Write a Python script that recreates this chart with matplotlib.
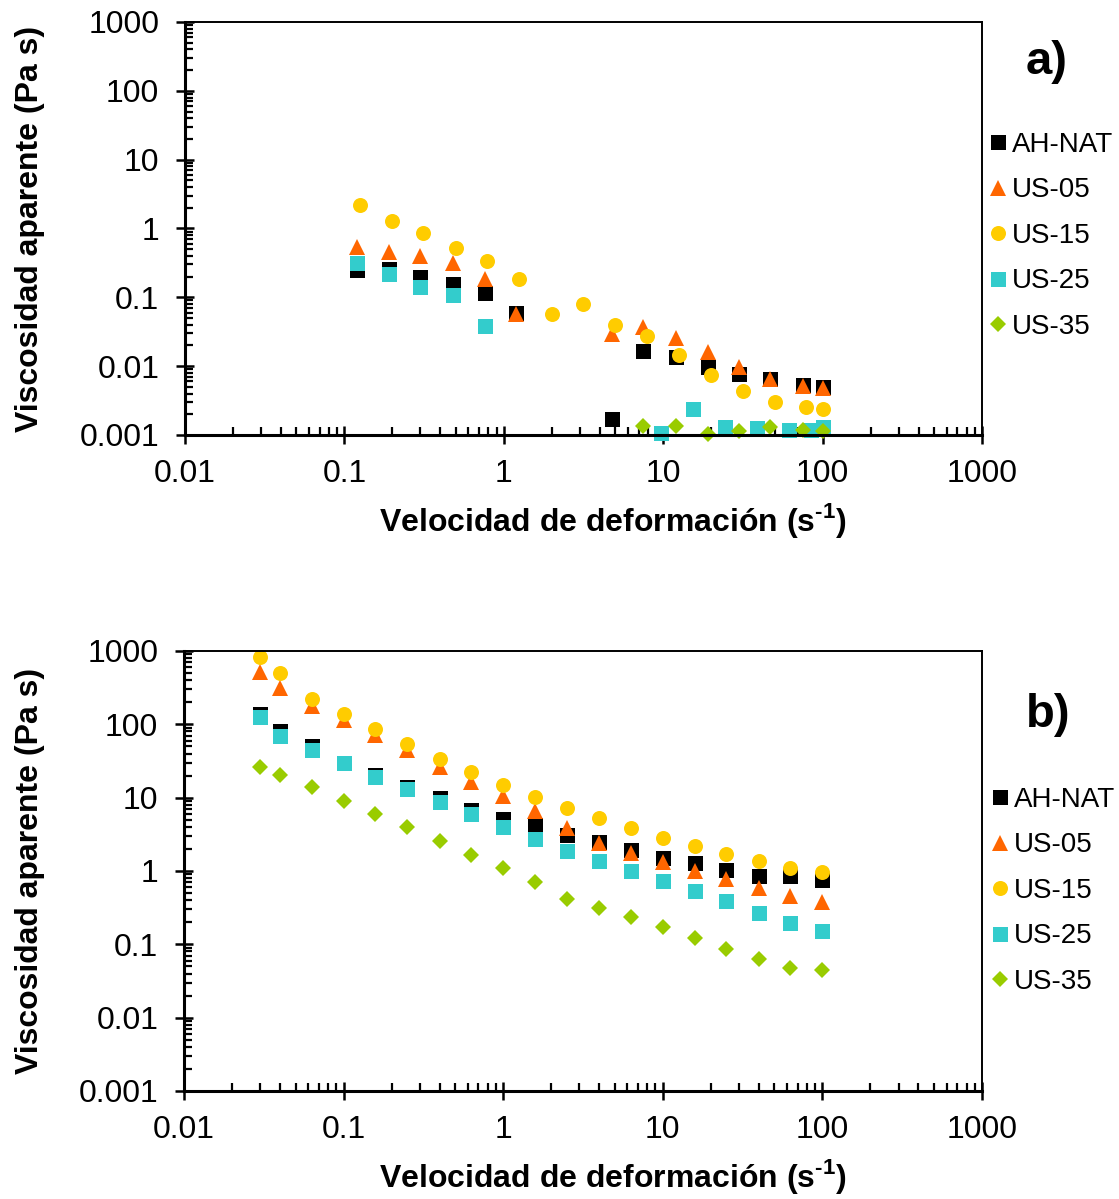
import matplotlib
matplotlib.use('Agg')
import matplotlib.pyplot as plt
from matplotlib.ticker import LogLocator, FuncFormatter, NullFormatter

plt.rcParams['font.family'] = 'Liberation Sans'
plt.rcParams['mathtext.fontset'] = 'custom'
plt.rcParams['mathtext.rm'] = 'Liberation Sans'
plt.rcParams['mathtext.bf'] = 'Liberation Sans:bold'

# ---- panel a) ----
rate_a = [0.12, 0.19, 0.30, 0.48, 0.76, 1.2, 4.8, 7.5, 12, 19, 30, 47, 75, 100]
rate_a15 = [0.125, 0.2, 0.31, 0.5, 0.79, 1.25, 2.0, 3.15, 5.0, 7.9, 12.5, 20, 31.5, 50, 79, 100]
rate_a25 = [0.12, 0.19, 0.30, 0.48, 0.76, 9.7, 15.4, 24.4, 38.7, 61.5, 85, 100]
rate_a35 = [7.5, 12, 19, 30, 47, 75, 100]

ahnat_a = [0.25, 0.26, 0.20, 0.156, 0.116, 0.059, 0.0017, 0.0165, 0.0136, 0.0097, 0.0077, 0.0065, 0.0053, 0.005]
us05_a = [0.54, 0.455, 0.40, 0.315, 0.185, 0.057, 0.029, 0.037, 0.0256, 0.016, 0.0097, 0.0065, 0.0052, 0.0048]
us15_a = [2.19, 1.28, 0.86, 0.52, 0.337, 0.185, 0.057, 0.080, 0.0396, 0.0274, 0.0145, 0.0074, 0.0044, 0.0030, 0.00255, 0.0024]
us25_a = [0.315, 0.218, 0.141, 0.108, 0.038, 0.00106, 0.00236, 0.00132, 0.00125, 0.0012, 0.0012, 0.00132]
us35_a = [0.00136, 0.00136, 0.00103, 0.00114, 0.00132, 0.00117, 0.00114]

# ---- panel b) ----
rate_b = [0.03, 0.04, 0.063, 0.1, 0.158, 0.25, 0.4, 0.63, 1.0, 1.58, 2.5, 4.0, 6.3, 10, 15.8, 25, 40, 63, 100]
ahnat_b = [138, 82, 50.7, 30, 20.6, 14.1, 9.9, 6.8, 5.07, 4.24, 3.06, 2.48, 1.93, 1.52, 1.27, 1.03, 0.855, 0.85, 0.75]
us05_b = [522, 316, 178, 115, 71.6, 44.7, 26.5, 16.5, 10.5, 6.6, 3.8, 2.43, 1.78, 1.33, 1.01, 0.77, 0.58, 0.46, 0.38]
us15_b = [835, 496, 221, 138, 87.5, 53.4, 33.7, 22.1, 14.9, 10.3, 7.3, 5.2, 3.82, 2.85, 2.19, 1.71, 1.38, 1.11, 0.97]
us25_b = [124, 70, 44.7, 30, 19.3, 13.1, 8.6, 5.9, 4.0, 2.7, 1.87, 1.38, 1.0, 0.73, 0.53, 0.385, 0.27, 0.197, 0.152]
us35_b = [25.9, 20.4, 13.8, 9.0, 6.0, 3.94, 2.56, 1.65, 1.09, 0.71, 0.42, 0.31, 0.238, 0.17, 0.121, 0.087, 0.063, 0.047, 0.045]

labels = ['AH-NAT', 'US-05', 'US-15', 'US-25', 'US-35']
colors = ['#000000', '#FF6600', '#FFCC00', '#33CCCC', '#99CC00']
markers = ['s', '^', 'o', 's', 'D']
sizes = [10.8, 11, 10.8, 10.8, 8]

W, H = 1119, 1199
fig = plt.figure(figsize=(W / 100, H / 100), dpi=100)


def panel(box, series, letter, letter_xy, leg_xy):
    l, t, r, b = box
    ax = fig.add_axes([l / W, 1 - b / H, (r - l) / W, (b - t) / H])
    for (x, y), lab, c, m, s in zip(series, labels, colors, markers, sizes):
        ax.plot(x, y, ls='none', marker=m, ms=s, color=c, mec=c, mew=0,
                label=lab, clip_on=False)
    ax.set_xscale('log')
    ax.set_yscale('log')
    ax.set_xlim(0.01, 1000)
    ax.set_ylim(0.001, 1000)
    fmt = FuncFormatter(lambda v, p: '%g' % v)
    for axis in (ax.xaxis, ax.yaxis):
        axis.set_major_locator(LogLocator(base=10, numticks=20))
        axis.set_minor_locator(LogLocator(base=10, subs=range(2, 10), numticks=20))
        axis.set_major_formatter(fmt)
        axis.set_minor_formatter(NullFormatter())
    ax.tick_params(which='major', direction='inout', length=13, width=1.8,
                   labelsize=23, color='black')
    ax.tick_params(which='minor', direction='in', length=6, width=1.6)
    ax.tick_params(axis='x', which='major', pad=11)
    ax.tick_params(axis='y', which='major', pad=12)
    for side in ('left', 'bottom'):
        ax.spines[side].set_linewidth(2.2)
    for side in ('top', 'right'):
        ax.spines[side].set_linewidth(1.4)

    ax.set_xlabel('Velocidad de deformación (s$^{\\mathbf{\u20101}}$)',
                  fontsize=23, fontweight='bold')
    ax.xaxis.set_label_coords((613 - l) / (r - l), -66 / (b - t))
    ax.set_ylabel('Viscosidad aparente (Pa s)', fontsize=23, fontweight='bold')
    ax.yaxis.set_label_coords((45 - l) / (r - l), 0.5)

    fig.text(letter_xy[0] / W, 1 - letter_xy[1] / H, letter, fontsize=34,
             fontweight='bold', ha='center', va='center')
    ax.legend(loc='upper left', bbox_to_anchor=(leg_xy[0] / W, 1 - leg_xy[1] / H),
              bbox_transform=fig.transFigure, frameon=False, fontsize=20,
              handlelength=0.6, handletextpad=0.2, borderpad=0, borderaxespad=0,
              labelspacing=0.7, numpoints=1)
    return ax


panel((185, 22, 982, 435),
      [(rate_a, ahnat_a), (rate_a, us05_a), (rate_a15, us15_a),
       (rate_a25, us25_a), (rate_a35, us35_a)],
      'a)', (1047, 62), (990, 132))

panel((184, 651, 982, 1091),
      [(rate_b, ahnat_b), (rate_b, us05_b), (rate_b, us15_b),
       (rate_b, us25_b), (rate_b, us35_b)],
      'b)', (1048, 715), (992, 787))

fig.savefig('out.png', dpi=100)
